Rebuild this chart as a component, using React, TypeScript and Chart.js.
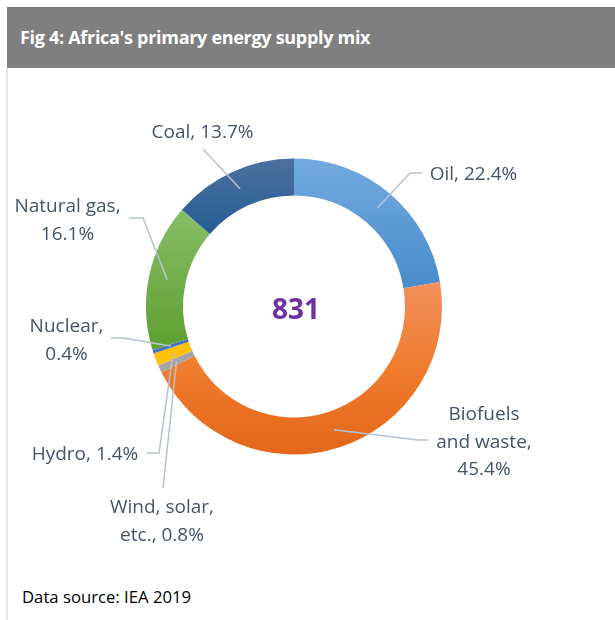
import React, { useEffect, useRef } from "react";
import { Chart, registerables } from "chart.js";

Chart.register(...registerables);

// ---- data ----
const categories = ["Oil", "Biofuels and waste", "Wind, solar, etc.", "Hydro", "Nuclear", "Natural gas", "Coal"];
const shares = [22.4, 45.4, 0.8, 1.4, 0.4, 16.1, 13.7];
const totalSupply = 831;
const titleText = "Fig 4: Africa's primary energy supply mix";
const sourceText = "Data source: IEA 2019";

// ---- styles ----
// vertical gradient stops per segment (position as fraction of the doughnut's height)
const colorStops: [number, string][][] = [
  [[0, "#72AADF"], [0.43, "#4A8CCD"]],
  [[0.42, "#F18F5C"], [0.72, "#F07B2D"], [1, "#E3661A"]],
  [[0, "#A5A5A5"], [1, "#A5A5A5"]],
  [[0, "#FFC41A"], [1, "#FFBE00"]],
  [[0, "#4472C4"], [1, "#4472C4"]],
  [[0.18, "#88BD67"], [0.61, "#60A133"]],
  [[0, "#4C709E"], [0.31, "#1D5891"]],
];

// label layout (page coordinates): word groups per line, centre x, first line y, leader path after anchor
const labelLayout = [
  { groups: [3], cx: 473.5, y: 175, path: [[410, 173], [422, 173]] },
  { groups: [1, 2, 1], cx: 484, y: 415, path: [[418, 440], [428, 440]] },
  { groups: [2, 2], cx: 162, y: 508, path: [[163, 488]] },
  { groups: [2], cx: 85, y: 455, path: [[159, 453], [147, 453]] },
  { groups: [1, 1], cx: 66.5, y: 327, path: [[123, 338], [111, 338]] },
  { groups: [2, 1], cx: 67.5, y: 207, path: [[143, 218], [129, 218]] },
  { groups: [3], cx: 202.5, y: 133, path: [[203, 149]] },
];
const lineHeight = 27.5;
const labelFont = "19px 'Open Sans'";
const labelColor = "#44546A";
const leaderColor = "#B7C2CF";

function labelLines(i: number): string[] {
  const full = `${categories[i]}, ${shares[i].toFixed(1)}%`;
  const words = full.split(" ");
  const out: string[] = [];
  let k = 0;
  for (const g of labelLayout[i].groups) {
    out.push(words.slice(k, k + g).join(" "));
    k += g;
  }
  if (k < words.length) out[out.length - 1] += " " + words.slice(k).join(" ");
  return out;
}

const labelsPlugin = {
  id: "pieLabels",
  afterDatasetsDraw(chart: any) {
    const ctx = chart.ctx;
    const meta = chart.getDatasetMeta(0);
    ctx.save();
    meta.data.forEach((arc: any, i: number) => {
      const p = arc.getProps(["x", "y", "startAngle", "endAngle", "innerRadius", "outerRadius"], true);
      const mid = (p.startAngle + p.endAngle) / 2;
      const r = (p.innerRadius + p.outerRadius) / 2;
      const ax = p.x + Math.cos(mid) * r;
      const ay = p.y + Math.sin(mid) * r;
      const lay = labelLayout[i];
      ctx.beginPath();
      ctx.moveTo(ax, ay);
      lay.path.forEach((pt) => ctx.lineTo(pt[0], pt[1]));
      ctx.strokeStyle = leaderColor;
      ctx.lineWidth = 1.5;
      ctx.stroke();
      ctx.font = labelFont;
      ctx.fillStyle = labelColor;
      ctx.textAlign = "center";
      ctx.textBaseline = "middle";
      labelLines(i).forEach((ln, j) => ctx.fillText(ln, lay.cx, lay.y + j * lineHeight));
    });
    // centre total
    const a0 = meta.data[0];
    ctx.font = "bold 28px 'Open Sans'";
    ctx.fillStyle = "#7030A0";
    ctx.textAlign = "center";
    ctx.textBaseline = "middle";
    ctx.fillText(String(totalSupply), a0.x + 2, a0.y + 5);
    ctx.restore();
  },
};

export default function App() {
  const ref = useRef<HTMLCanvasElement>(null);
  useEffect(() => {
    if (!ref.current) return;
    const chart = new Chart(ref.current, {
      type: "doughnut",
      data: {
        labels: categories,
        datasets: [
          {
            data: shares,
            borderWidth: 0,
            backgroundColor: (c: any) => {
              const ch = c.chart;
              const area = ch.chartArea;
              const i = c.dataIndex;
              const stops = colorStops[i];
              if (!area) return stops[stops.length - 1][1];
              const g = ch.ctx.createLinearGradient(0, area.top, 0, area.bottom);
              stops.forEach(([pos, col]) => g.addColorStop(pos, col));
              return g;
            },
          },
        ],
      },
      options: {
        responsive: false,
        animation: false,
        cutout: "75%",
        layout: { padding: { left: 146, right: 173, top: 158.5, bottom: 165.5 } },
        plugins: { legend: { display: false }, tooltip: { enabled: false } },
      },
      plugins: [labelsPlugin],
    });
    return () => chart.destroy();
  }, []);

  return (
    <div>
      <div
        style={{
          position: "absolute",
          left: 7,
          top: 7,
          width: 608,
          height: 61,
          background: "#7F7F7F",
          color: "#fff",
          fontFamily: "'Open Sans', sans-serif",
          fontWeight: 700,
          fontSize: 18,
          lineHeight: "61px",
          paddingLeft: 13,
          boxSizing: "border-box",
          letterSpacing: -0.3,
        }}
      >
        {titleText}
      </div>
      <div style={{ position: "absolute", left: 6, top: 68, width: 2, height: 552, background: "#E4E8EE" }} />
      <div
        style={{
          position: "absolute",
          left: 22,
          top: 583,
          fontFamily: "'Open Sans', sans-serif",
          fontSize: 16.7,
          color: "#000",
          lineHeight: "28px",
        }}
      >
        {sourceText}
      </div>
      <canvas ref={ref} width={615} height={620} style={{ position: "absolute", left: 0, top: 0, display: "block" }} />
    </div>
  );
}
